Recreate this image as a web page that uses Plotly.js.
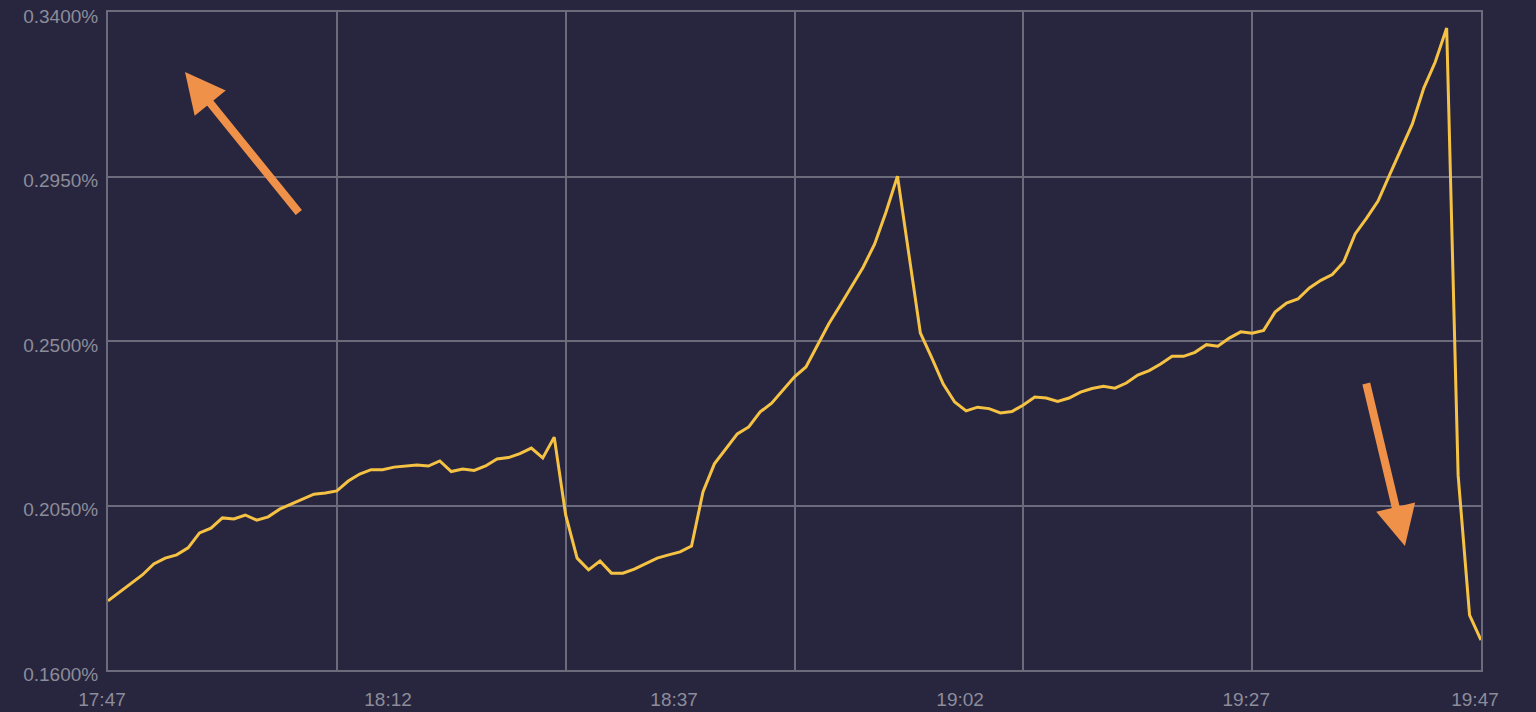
<!DOCTYPE html>
<html>
<head>
<meta charset="utf-8">
<script src="https://cdn.plot.ly/plotly-3.0.1.min.js"></script>
<style>
  html, body { margin: 0; padding: 0; background: #27263e; }
  #chart { width: 1536px; height: 712px; }
</style>
</head>
<body>
<div id="chart"></div>
<script>
// Minutes elapsed since 17:47 (one sample per minute, 17:47 .. 19:47)
const minutes = [];
for (let m = 0; m <= 120; m++) minutes.push(m);

// Rate values (percent)
const rate = [
  0.1789, 0.1813, 0.1838, 0.1860, 0.1890, 0.1906, 0.1915, 0.1934, 0.1975, 0.1988,
  0.2016, 0.2013, 0.2024, 0.2010, 0.2019, 0.2040, 0.2054, 0.2068, 0.2081, 0.2084,
  0.2090, 0.2117, 0.2136, 0.2148, 0.2148, 0.2155, 0.2159, 0.2161, 0.2158, 0.2172,
  0.2143, 0.2150, 0.2146, 0.2158, 0.2177, 0.2181, 0.2192, 0.2207, 0.2180, 0.2237,
  0.2024, 0.1906, 0.1874, 0.1898, 0.1865, 0.1865, 0.1876, 0.1890, 0.1906, 0.1915,
  0.1923, 0.1939, 0.2087, 0.2164, 0.2205, 0.2246, 0.2265, 0.2306, 0.2330, 0.2366,
  0.2402, 0.2429, 0.2489, 0.2547, 0.2598, 0.2650, 0.2702, 0.2765, 0.2853, 0.2951,
  0.2738, 0.2522, 0.2454, 0.2382, 0.2333, 0.2309, 0.2319, 0.2315, 0.2303, 0.2307,
  0.2325, 0.2347, 0.2344, 0.2335, 0.2344, 0.2360, 0.2370, 0.2376, 0.2371, 0.2385,
  0.2407, 0.2419, 0.2437, 0.2458, 0.2458, 0.2469, 0.2490, 0.2486, 0.2508, 0.2525,
  0.2521, 0.2529, 0.2579, 0.2604, 0.2615, 0.2645, 0.2666, 0.2682, 0.2716, 0.2793,
  0.2836, 0.2883, 0.2954, 0.3025, 0.3094, 0.3192, 0.3263, 0.3356, 0.2133, 0.1750,
  0.1682
];

// Axis ticks
const gridMinutes = [0, 20, 40, 60, 80, 100, 120];
const labelMinutes = [0, 25, 50, 75, 100, 120];
const labelText = ["17:47", "18:12", "18:37", "19:02", "19:27", "19:47"];
const yTicks = [0.16, 0.205, 0.25, 0.295, 0.34];
const yTickText = ["0.1600%", "0.2050%", "0.2500%", "0.2950%", "0.3400%"];

const gridColor = "#6c6b7b";
const tickFontColor = "#8d8c9a";
const bg = "#27263e";
const fontFamily = "Liberation Sans, Arial, sans-serif";

const traces = [
  {
    x: minutes, y: rate, type: "scatter", mode: "lines",
    line: { color: "#f6c244", width: 3 },
    xaxis: "x", yaxis: "y", hoverinfo: "skip", showlegend: false
  },
  { x: [], y: [], type: "scatter", mode: "lines", xaxis: "x2", yaxis: "y", showlegend: false }
];

const layout = {
  width: 1536, height: 712,
  paper_bgcolor: bg, plot_bgcolor: bg,
  margin: { l: 108, r: 55, t: 12, b: 42 },
  showlegend: false,
  font: { family: fontFamily, color: tickFontColor },
  xaxis: {
    range: [0, 120], tickvals: gridMinutes, showticklabels: false,
    showgrid: true, gridcolor: gridColor, gridwidth: 2,
    showline: true, linecolor: gridColor, linewidth: 2, mirror: true,
    zeroline: false, ticks: ""
  },
  xaxis2: {
    overlaying: "x", side: "bottom", anchor: "y",
    range: [0, 120], tickvals: labelMinutes, ticktext: labelText,
    showgrid: false, zeroline: false, showline: false, ticks: "",
    tickfont: { size: 19, color: tickFontColor, family: fontFamily },
    ticklabelshift: -6, ticklabelstandoff: 16
  },
  yaxis: {
    range: [0.16, 0.34], tickvals: yTicks, ticktext: yTickText,
    showgrid: true, gridcolor: gridColor, gridwidth: 2,
    showline: true, linecolor: gridColor, linewidth: 2, mirror: true,
    zeroline: false, ticks: "",
    tickfont: { size: 19, color: tickFontColor, family: fontFamily },
    ticklabelshift: 4, ticklabelstandoff: 4
  },
  annotations: [
    {
      xref: "paper", yref: "paper", x: 0.0561, y: 0.9088,
      axref: "pixel", ayref: "pixel", ax: 115, ay: 142,
      text: "", showarrow: true, arrowhead: 2, arrowsize: 1.0, arrowwidth: 8,
      arrowcolor: "#f0914a"
    },
    {
      xref: "paper", yref: "paper", x: 0.9446, y: 0.1884,
      axref: "pixel", ayref: "pixel", ax: -39, ay: -164,
      text: "", showarrow: true, arrowhead: 2, arrowsize: 1.0, arrowwidth: 8,
      arrowcolor: "#f0914a"
    }
  ]
};

Plotly.newPlot("chart", traces, layout, { displayModeBar: false, staticPlot: true });
</script>
</body>
</html>
